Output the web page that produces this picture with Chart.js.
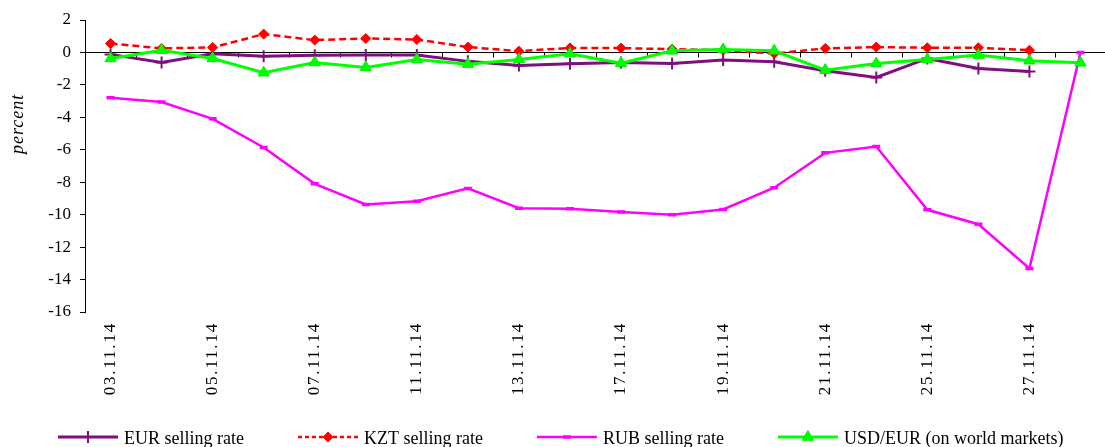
<!DOCTYPE html>
<html>
<head>
<meta charset="utf-8">
<script src="https://cdn.jsdelivr.net/npm/chart.js"></script>
<style>
  html, body { margin: 0; padding: 0; background: #fff; overflow: hidden; width: 1105px; height: 447px; }
  canvas { display: block; }
</style>
</head>
<body>
<canvas id="chart" width="1114" height="447"></canvas>
<script>
// Trading days, November 2014
const dates = ['03.11.14', '04.11.14', '05.11.14', '06.11.14', '07.11.14',
               '10.11.14', '11.11.14', '12.11.14', '13.11.14', '14.11.14',
               '17.11.14', '18.11.14', '19.11.14', '20.11.14', '21.11.14',
               '24.11.14', '25.11.14', '26.11.14', '27.11.14', '28.11.14'];

// Change, percent
const eurSelling = [-0.12, -0.62, -0.08, -0.23, -0.18, -0.16, -0.16, -0.55, -0.80, -0.70,
                    -0.62, -0.68, -0.47, -0.57, -1.13, -1.54, -0.37, -0.99, -1.17, null];
const kztSelling = [0.55, 0.25, 0.31, 1.13, 0.76, 0.86, 0.80, 0.33, 0.08, 0.28,
                    0.27, 0.20, 0.14, -0.07, 0.25, 0.33, 0.29, 0.29, 0.14, null];
const rubSelling = [-2.80, -3.06, -4.09, -5.86, -8.10, -9.37, -9.17, -8.38, -9.60, -9.64,
                    -9.83, -10.01, -9.68, -8.34, -6.19, -5.80, -9.70, -10.59, -13.32, 0];
const usdEurWorld = [-0.37, 0.14, -0.37, -1.25, -0.62, -0.92, -0.43, -0.72, -0.43, -0.08,
                     -0.66, 0.10, 0.18, 0.10, -1.09, -0.68, -0.43, -0.16, -0.51, -0.64];

const seriesNames = ['EUR selling rate', 'KZT selling rate', 'RUB selling rate', 'USD/EUR (on world markets)'];
const yAxisTitle = 'percent';
const yMin = -16, yMax = 2, yStep = 2;

const SERIF = '"Liberation Serif", "Times New Roman", serif';

function drawMarker(ctx, ds, x, y) {
  ctx.save();
  ctx.fillStyle = ds.pointBackgroundColor;
  ctx.strokeStyle = ds.pointBorderColor;
  ctx.lineWidth = ds.pointBorderWidth;
  ctx.setLineDash([]);
  if (Chart.helpers && Chart.helpers.drawPoint) {
    Chart.helpers.drawPoint(ctx, {
      pointStyle: ds.pointStyle, radius: ds.pointRadius,
      borderWidth: ds.pointBorderWidth, rotation: 0
    }, x, y);
  }
  ctx.restore();
}

const axisDecor = {
  id: 'axisDecor',
  beforeDraw(chart) {
    // date labels run a little wider than plain text
    chart.ctx.letterSpacing = '1.8px';
  },
  beforeDatasetsDraw(chart) {
    const ctx = chart.ctx;
    ctx.letterSpacing = '0px';
    const { left, right } = chart.chartArea;
    const xs = chart.scales.x, ys = chart.scales.y;
    const y0 = Math.round(ys.getPixelForValue(0)) + 0.5;
    const step = xs.getPixelForValue(1) - xs.getPixelForValue(0);
    ctx.save();
    ctx.strokeStyle = '#000';
    ctx.lineWidth = 1;
    ctx.beginPath();
    ctx.moveTo(left, y0);
    ctx.lineTo(right, y0);
    for (let i = 1; i <= dates.length; i++) {
      const px = Math.round(xs.getPixelForValue(i) - step / 2) + 0.5;
      ctx.moveTo(px, y0);
      ctx.lineTo(px, y0 + 5);
    }
    ctx.stroke();
    ctx.restore();
  },
  afterDraw(chart) {
    const ctx = chart.ctx;
    ctx.save();
    // axis title
    const ys = chart.scales.y;
    ctx.save();
    ctx.translate(18, ys.getPixelForValue(-4.4));
    ctx.rotate(-Math.PI / 2);
    ctx.font = 'italic 18px ' + SERIF;
    ctx.letterSpacing = '1px';
    ctx.fillStyle = '#000';
    ctx.textAlign = 'center';
    ctx.textBaseline = 'middle';
    ctx.fillText(yAxisTitle, 0, 0);
    ctx.restore();

    // legend row
    ctx.letterSpacing = '0px';
    ctx.font = '18px ' + SERIF;
    ctx.fillStyle = '#000';
    ctx.textBaseline = 'alphabetic';
    ctx.textAlign = 'left';
    let lx = 58;
    const ly = 437;
    chart.data.datasets.forEach(ds => {
      ctx.save();
      ctx.strokeStyle = ds.borderColor;
      ctx.lineWidth = ds.borderWidth;
      ctx.setLineDash(ds.borderDash ? [4, 3] : []);
      ctx.beginPath();
      ctx.moveTo(lx, ly);
      ctx.lineTo(lx + 60, ly);
      ctx.stroke();
      ctx.restore();
      drawMarker(ctx, ds, lx + 30, ly);
      ctx.fillStyle = '#000';
      ctx.fillText(ds.label, lx + 66, 444);
      lx += 66 + ctx.measureText(ds.label).width + 54;
    });
    ctx.restore();
  }
};

new Chart(document.getElementById('chart'), {
  type: 'line',
  data: {
    labels: dates,
    datasets: [
      {
        label: seriesNames[0], data: eurSelling, order: 4,
        borderColor: '#7f0f7f', borderWidth: 3,
        pointStyle: 'cross', pointRadius: 6, pointBorderWidth: 2,
        pointBorderColor: '#7f0f7f', pointBackgroundColor: '#7f0f7f'
      },
      {
        label: seriesNames[1], data: kztSelling, order: 3,
        borderColor: '#ff0000', borderWidth: 2.5, borderDash: [7, 4],
        pointStyle: 'rectRot', pointRadius: 5, pointBorderWidth: 1,
        pointBorderColor: '#ff0000', pointBackgroundColor: '#ff0000'
      },
      {
        label: seriesNames[2], data: rubSelling, order: 2,
        borderColor: '#ff00ff', borderWidth: 2.5,
        pointStyle: 'line', pointRadius: 4, pointBorderWidth: 3.5,
        pointBorderColor: '#ff00ff', pointBackgroundColor: '#ff00ff'
      },
      {
        label: seriesNames[3], data: usdEurWorld, order: 1,
        borderColor: '#00ff00', borderWidth: 3,
        pointStyle: 'triangle', pointRadius: 6.5, pointBorderWidth: 1,
        pointBorderColor: '#00ee00', pointBackgroundColor: '#00ff00'
      }
    ]
  },
  options: {
    responsive: false,
    devicePixelRatio: 1,
    animation: false,
    events: [],
    layout: { padding: { top: 20, right: 0, bottom: 0, left: 0 } },
    plugins: { legend: { display: false }, tooltip: { enabled: false } },
    elements: { line: { tension: 0 } },
    scales: {
      x: {
        type: 'category',
        offset: true,
        grid: { display: false, drawTicks: false },
        border: { display: false },
        ticks: {
          autoSkip: false, minRotation: 90, maxRotation: 90, padding: 10,
          color: '#000', font: { family: SERIF, size: 17 },
          callback: (v, i) => (i % 2 === 0 ? dates[i] : '')
        },
        afterFit: s => { s.height = 135; }
      },
      y: {
        min: yMin, max: yMax,
        grid: { drawOnChartArea: false, drawTicks: true, tickLength: 5, color: '#000', lineWidth: 1, z: 1 },
        border: { display: true, color: '#000', width: 1, z: 1 },
        ticks: { stepSize: yStep, padding: 9, color: '#000', font: { family: SERIF, size: 17 }, z: 1 },
        title: { display: false },
        afterFit: s => { s.width = 85; }
      }
    }
  },
  plugins: [axisDecor]
});
</script>
</body>
</html>
